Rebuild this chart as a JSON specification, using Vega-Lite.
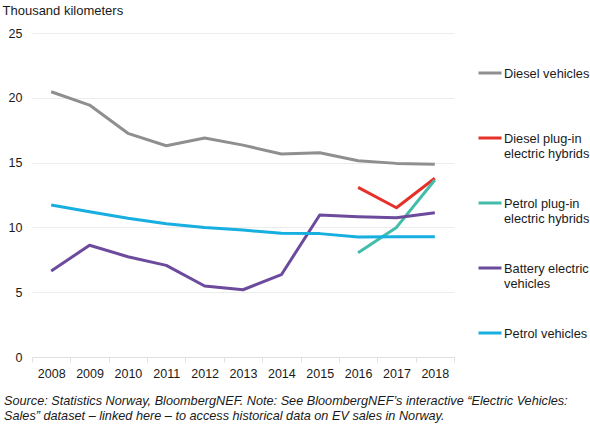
{
  "$schema": "https://vega.github.io/schema/vega-lite/v6.json",
  "autosize": "none",
  "padding": {"left": 32, "top": 33, "right": 136, "bottom": 69},
  "width": 422,
  "height": 324,
  "background": "white",
  "config": {
    "font": "Liberation Sans",
    "view": {"stroke": null},
    "axis": {"labelFont": "Liberation Sans", "titleFont": "Liberation Sans", "labelColor": "#1a1a1a", "titleColor": "#1a1a1a"},
    "legend": {"labelFont": "Liberation Sans"},
    "title": {"font": "Liberation Sans"}
  },
  "title": {
    "text": ["Source: Statistics Norway, BloombergNEF. Note: See BloombergNEF’s interactive “Electric Vehicles:", "Sales” dataset – linked here – to access historical data on EV sales in Norway."],
    "orient": "bottom",
    "anchor": "start",
    "frame": "group",
    "dx": -28,
    "offset": 15,
    "fontStyle": "italic",
    "fontWeight": "normal",
    "fontSize": 12.7,
    "lineHeight": 15,
    "color": "#1a1a1a"
  },
  "data": {
    "values": [
      {"year": "2008", "type": "Diesel vehicles", "value": 20.47},
      {"year": "2009", "type": "Diesel vehicles", "value": 19.44},
      {"year": "2010", "type": "Diesel vehicles", "value": 17.26},
      {"year": "2011", "type": "Diesel vehicles", "value": 16.3},
      {"year": "2012", "type": "Diesel vehicles", "value": 16.9},
      {"year": "2013", "type": "Diesel vehicles", "value": 16.35},
      {"year": "2014", "type": "Diesel vehicles", "value": 15.66},
      {"year": "2015", "type": "Diesel vehicles", "value": 15.76},
      {"year": "2016", "type": "Diesel vehicles", "value": 15.15},
      {"year": "2017", "type": "Diesel vehicles", "value": 14.94},
      {"year": "2018", "type": "Diesel vehicles", "value": 14.87},
      {"year": "2016", "type": "Diesel plug-in electric hybrids", "value": 13.09},
      {"year": "2017", "type": "Diesel plug-in electric hybrids", "value": 11.52},
      {"year": "2018", "type": "Diesel plug-in electric hybrids", "value": 13.79},
      {"year": "2016", "type": "Petrol plug-in electric hybrids", "value": 8.05},
      {"year": "2017", "type": "Petrol plug-in electric hybrids", "value": 10.0},
      {"year": "2018", "type": "Petrol plug-in electric hybrids", "value": 13.66},
      {"year": "2008", "type": "Battery electric vehicles", "value": 6.64},
      {"year": "2009", "type": "Battery electric vehicles", "value": 8.62},
      {"year": "2010", "type": "Battery electric vehicles", "value": 7.74},
      {"year": "2011", "type": "Battery electric vehicles", "value": 7.07},
      {"year": "2012", "type": "Battery electric vehicles", "value": 5.48},
      {"year": "2013", "type": "Battery electric vehicles", "value": 5.19},
      {"year": "2014", "type": "Battery electric vehicles", "value": 6.35},
      {"year": "2015", "type": "Battery electric vehicles", "value": 10.96},
      {"year": "2016", "type": "Battery electric vehicles", "value": 10.83},
      {"year": "2017", "type": "Battery electric vehicles", "value": 10.75},
      {"year": "2018", "type": "Battery electric vehicles", "value": 11.13},
      {"year": "2008", "type": "Petrol vehicles", "value": 11.73},
      {"year": "2009", "type": "Petrol vehicles", "value": 11.21},
      {"year": "2010", "type": "Petrol vehicles", "value": 10.7},
      {"year": "2011", "type": "Petrol vehicles", "value": 10.29},
      {"year": "2012", "type": "Petrol vehicles", "value": 10.0},
      {"year": "2013", "type": "Petrol vehicles", "value": 9.8},
      {"year": "2014", "type": "Petrol vehicles", "value": 9.54},
      {"year": "2015", "type": "Petrol vehicles", "value": 9.52},
      {"year": "2016", "type": "Petrol vehicles", "value": 9.26},
      {"year": "2017", "type": "Petrol vehicles", "value": 9.28},
      {"year": "2018", "type": "Petrol vehicles", "value": 9.28}
    ]
  },
  "mark": {"type": "line", "strokeWidth": 3, "strokeCap": "butt", "strokeJoin": "round"},
  "encoding": {
    "x": {
      "field": "year",
      "type": "ordinal",
      "bandPosition": 0.5,
      "scale": {"type": "band", "paddingInner": 0, "paddingOuter": 0},
      "axis": {
        "title": null,
        "labelAngle": 0,
        "labelFontSize": 12.5,
        "labelPadding": 5,
        "domainColor": "#e0e0e0",
        "tickColor": "#e0e0e0",
        "tickSize": 5,
        "tickBand": "extent",
        "grid": false
      }
    },
    "y": {
      "field": "value",
      "type": "quantitative",
      "scale": {"domain": [0, 25], "nice": false},
      "axis": {
        "values": [0, 5, 10, 15, 20, 25],
        "domain": false,
        "ticks": false,
        "grid": true,
        "gridColor": "#ececec",
        "labelFontSize": 12.5,
        "labelPadding": 10,
        "title": "Thousand kilometers",
        "titleAngle": 0,
        "titleAlign": "left",
        "titleBaseline": "alphabetic",
        "titleX": -30,
        "titleY": -19,
        "titleFontSize": 13,
        "titleFontWeight": "normal"
      }
    },
    "color": {
      "field": "type",
      "type": "nominal",
      "scale": {
        "domain": ["Diesel vehicles", "Diesel plug-in electric hybrids", "Petrol plug-in electric hybrids", "Battery electric vehicles", "Petrol vehicles"],
        "range": ["#8f8f8f", "#e5312a", "#43bda9", "#6c4b9c", "#17aee0"]
      },
      "legend": {
        "title": null,
        "orient": "none",
        "legendX": 445,
        "legendY": 27,
        "symbolType": "stroke",
        "symbolSize": 529,
        "symbolStrokeWidth": 3,
        "labelOffset": 1,
        "labelFontSize": 12.8,
        "labelColor": "#1a1a1a",
        "labelLimit": 200,
        "gridAlign": "all",
        "rowPadding": 29,
        "labelBaseline": "top",
        "labelExpr": "datum.label == 'Diesel plug-in electric hybrids' ? ['Diesel plug-in', 'electric hybrids'] : datum.label == 'Petrol plug-in electric hybrids' ? ['Petrol plug-in', 'electric hybrids'] : datum.label == 'Battery electric vehicles' ? ['Battery electric', 'vehicles'] : datum.label",
        "encode": {"labels": {"update": {"dy": {"value": -5}}}}
      }
    }
  }
}
